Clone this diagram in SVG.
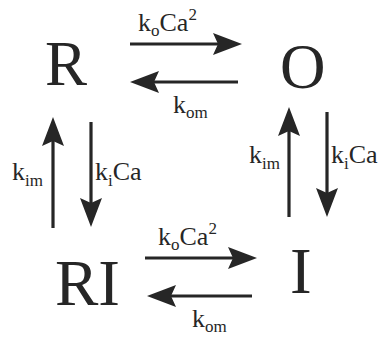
<svg xmlns="http://www.w3.org/2000/svg" width="385" height="340" viewBox="0 0 385 340">
<defs>
<marker id="ah" markerUnits="userSpaceOnUse" markerWidth="30" markerHeight="22" viewBox="0 0 30 22" refX="20" refY="11" orient="auto">
<path d="M0,0 L29,11 L0,22 L5,11 Z" fill="#262626"/>
</marker>
</defs>
<rect width="385" height="340" fill="#fff"/>
<g id="connectors" stroke="#262626" stroke-width="3.2" fill="none" marker-end="url(#ah)">
<line x1="130" y1="44" x2="233" y2="44"/>
<line x1="238" y1="82" x2="139" y2="82"/>
<line x1="53" y1="228" x2="53" y2="126"/>
<line x1="91" y1="122" x2="91" y2="218"/>
<line x1="289" y1="217" x2="289" y2="116"/>
<line x1="327" y1="112" x2="327" y2="208"/>
<line x1="145" y1="258" x2="248" y2="258"/>
<line x1="252" y1="296" x2="156" y2="296"/>
</g>
<g id="labels" font-family="Liberation Serif" font-size="26" fill="#262626">
<text x="138" y="31">k<tspan font-size="17" dy="5">o</tspan><tspan dy="-5">Ca</tspan><tspan font-size="17" dy="-11">2</tspan></text>
<text x="173" y="113">k<tspan font-size="17" dy="5">om</tspan></text>
<text x="12" y="180">k<tspan font-size="17" dy="6">im</tspan></text>
<text x="95" y="180">k<tspan font-size="17" dy="6">i</tspan><tspan dy="-6">Ca</tspan></text>
<text x="249" y="163">k<tspan font-size="17" dy="6">im</tspan></text>
<text x="331" y="163">k<tspan font-size="17" dy="6">i</tspan><tspan dy="-6">Ca</tspan></text>
<text x="158" y="245">k<tspan font-size="17" dy="5">o</tspan><tspan dy="-5">Ca</tspan><tspan font-size="17" dy="-11">2</tspan></text>
<text x="192" y="327">k<tspan font-size="17" dy="5">om</tspan></text>
</g>
<g id="node-R" font-family="Liberation Serif" font-size="63" fill="#262626"><text x="45" y="85">R</text></g>
<g id="node-O" font-family="Liberation Serif" font-size="63" fill="#262626"><text x="280" y="88">O</text></g>
<g id="node-RI" font-family="Liberation Serif" font-size="65" fill="#262626"><text x="55" y="305">RI</text></g>
<g id="node-I" font-family="Liberation Serif" font-size="65" fill="#262626"><text x="290" y="293">I</text></g>
</svg>
